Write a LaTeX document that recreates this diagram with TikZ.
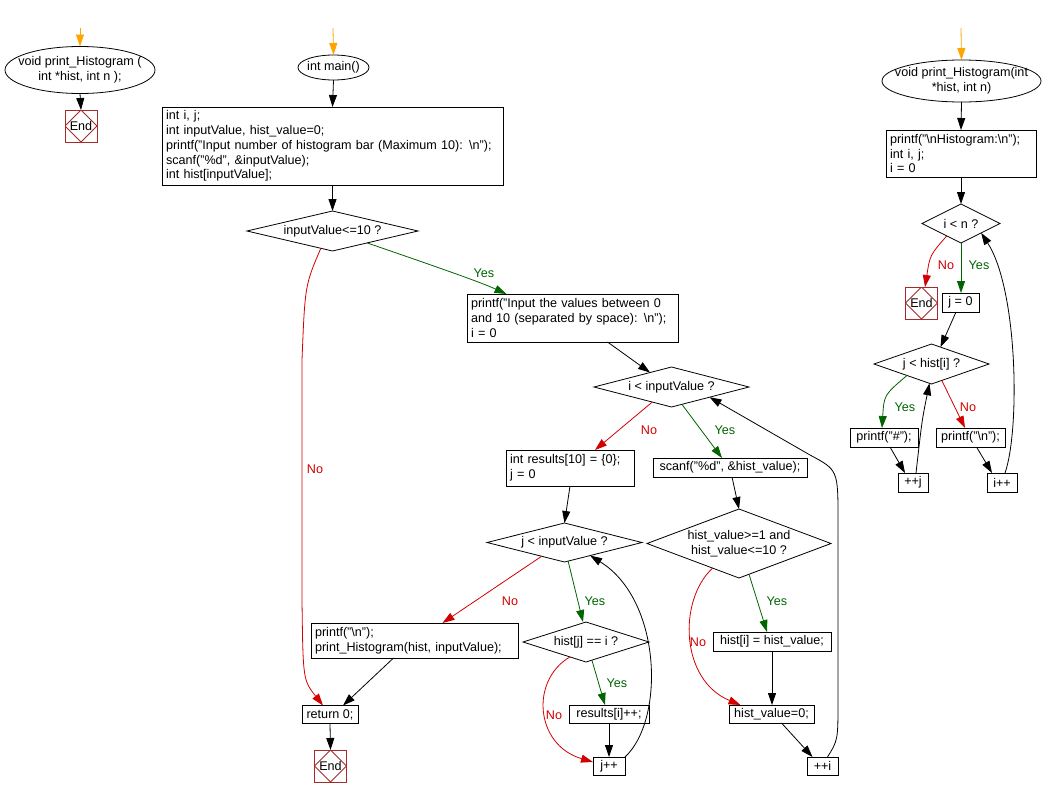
\documentclass[tikz,border=0pt]{standalone}
\usepackage{fontspec}
\setmainfont{Liberation Sans}
\usetikzlibrary{shapes.geometric,arrows.meta}
\definecolor{yesgreen}{RGB}{0,100,0}
\definecolor{nored}{RGB}{210,0,0}
\definecolor{endred}{RGB}{165,42,42}
\definecolor{startorange}{RGB}{255,165,0}
\begin{document}
\begin{tikzpicture}[x=1pt,y=-1pt,
  font=\fontsize{12.6}{14.75}\selectfont,
  line width=0.8pt,
  proc/.style={draw, rectangle, inner xsep=4pt, inner ysep=2pt, align=left, outer sep=0pt},
  cproc/.style={draw, rectangle, inner xsep=2pt, inner ysep=0pt, align=center, outer sep=0pt},
  dec/.style={draw, diamond, inner sep=0pt, outer sep=0pt},
  term/.style={draw, ellipse, inner sep=0pt, outer sep=0pt},
  endbox/.style={draw=endred, rectangle, minimum size=32pt, inner sep=0pt, outer sep=0pt,
    path picture={\draw[endred] (path picture bounding box.north) -- (path picture bounding box.east) -- (path picture bounding box.south) -- (path picture bounding box.west) -- cycle;}},
  arr/.style={-{Triangle[length=12pt,width=8pt]}},
  yesline/.style={arr, yesgreen},
  noline/.style={arr, nored},
  startline/.style={arr, startorange},
  yeslab/.style={text=yesgreen},
  nolab/.style={text=nored}]
\useasboundingbox (0,0) rectangle (1043,798);

% ---------- left function ----------
\coordinate (ls) at (80,28);
\node[term, minimum width=150pt, minimum height=47pt, label={[align=center]center:{void print\_Histogram (\\int *hist, int n );}}] (lf) at (80,70) {};
\node[endbox] (le) at (81,126) {End};
\draw[startline] (ls) -- (lf.north);
\draw[arr] (lf.south) -- (le.north);

% ---------- main ----------
\coordinate (ms) at (333,28);
\node[term, minimum width=71pt, minimum height=25pt, label=center:{int main()}] (mm) at (333.5,67.5) {};
\node[proc, text width=333pt, minimum height=78pt] (init) at (332.5,146) {int i, j;\\int inputValue, hist\_value=0;\\printf("Input number of histogram bar (Maximum 10): \textbackslash n");\\scanf("\%d", \&inputValue);\\int hist[inputValue];};
\node[dec, minimum width=171pt, minimum height=40pt, label=center:{inputValue<=10 ?}] (d1) at (332.5,231) {};
\node[proc, text width=203pt, minimum height=48pt] (inb) at (572.5,318) {printf("Input the values between 0\\and 10 (separated by space): \textbackslash n");\\i = 0};
\node[dec, minimum width=155pt, minimum height=40pt, label=center:{i < inputValue ?}] (d2) at (671.5,387) {};
\node[proc, text width=120pt, minimum height=36pt] (res) at (570,468) {int results[10] = \{0\};\\j = 0};
\node[cproc, minimum width=154pt, minimum height=19pt] (scan) at (730,467.5) {scanf("\%d", \&hist\_value);};
\node[dec, minimum width=155pt, minimum height=39pt, label=center:{j < inputValue ?}] (d3) at (564.5,542.5) {};
\node[proc, text width=199pt, minimum height=35pt] (ph) at (414.5,640.5) {printf("\textbackslash n");\\print\_Histogram(hist, inputValue);};
\node[dec, minimum width=126pt, minimum height=40pt, label=center:{hist[j] == i ?}] (d4) at (586,642) {};
\node[cproc, minimum width=80pt, minimum height=18pt] (rinc) at (609,714) {results[i]++;};
\node[cproc, minimum width=32pt, minimum height=18pt] (jinc) at (609,766) {j++};
\node[cproc, minimum width=56pt, minimum height=18pt] (ret) at (330,714.5) {return 0;};
\node[endbox] (me) at (330.5,766) {End};
\node[dec, minimum width=184pt, minimum height=69pt, label={[align=center]center:{hist\_value>=1 and\\hist\_value<=10 ?}}] (d5) at (739,543.5) {};
\node[cproc, minimum width=118pt, minimum height=19pt] (hs) at (772,641.5) {hist[i] = hist\_value;};
\node[cproc, minimum width=85pt, minimum height=18pt] (hv) at (771.5,714) {hist\_value=0;};
\node[cproc, minimum width=31pt, minimum height=18pt] (iinc) at (822.5,766) {++i};

\draw[startline] (ms) -- (mm.north);
\draw[arr] (mm.south) -- (init.north);
\draw[arr] (init.south) -- (d1.north);
\draw[yesline] (d1.-19) .. controls (440,268) and (480,282) .. ([xshift=-66pt]inb.north);
\draw[noline] (d1.-124) .. controls (305,285) .. (302,360) -- (302,600) .. controls (303,680) .. ([xshift=-7pt]ret.north);
\draw[arr] ([xshift=35pt]inb.south) -- (d2.146);
\draw[noline] (d2.-142) -- ([xshift=25pt]res.north);
\draw[yesline] (d2.-59) -- ([xshift=-8pt]scan.north);
\draw[arr] (res.south) -- (d3.north);
\draw[arr] ([xshift=2pt]scan.south) -- (d5.north);
\draw[noline] (d3.-149) -- ([xshift=28pt]ph.north);
\draw[yesline] (d3.-79) -- ([xshift=-3pt]d4.north);
\draw[arr] ([xshift=-21pt]ph.south) -- ([xshift=13pt]ret.north);
\draw[yesline] (d4.-72) -- ([xshift=-4pt]rinc.north);
\draw[noline] (d4.-137) .. controls (530,680) and (535,745) .. ([yshift=4pt]jinc.west);
\draw[arr] (rinc.south) -- (jinc.north);
\draw[arr] (jinc.north east) .. controls (665,720) and (662,600) .. (d3.-27);
\draw[arr] (ret.south) -- (me.north);
\draw[yesline] (d5.-72) -- ([xshift=-5pt]hs.north);
\draw[noline] (d5.-137) .. controls (678,600) and (680,680) .. ([xshift=-31pt]hv.north);
\draw[arr] (hs.south) -- (hs.south |- hv.north);
\draw[arr] ([xshift=10pt]hv.south) -- ([xshift=-10pt]iinc.north);
\draw[arr] ([xshift=5pt]iinc.north) .. controls (838,740) .. (838,700) -- (838,520) .. controls (838,470) .. (810,455) -- (d2.-15);

\node[yeslab] (y1) at (484,273) {Yes};
\node[nolab] (n1) at (315,469) {No};
\node[nolab] (n2) at (649,430) {No};
\node[yeslab] (y2) at (725,430) {Yes};
\node[nolab] (n3) at (510,601) {No};
\node[yeslab] (y3) at (595,601) {Yes};
\node[yeslab] (y4) at (617,683) {Yes};
\node[nolab] (n4) at (554,715) {No};
\node[yeslab] (y5) at (777,601) {Yes};
\node[nolab] (n5) at (698,642) {No};

% ---------- right function ----------
\coordinate (rs) at (961,28);
\node[term, minimum width=159pt, minimum height=42pt, label={[align=center]center:{void print\_Histogram(int\\{}*hist, int n)}}] (rf) at (961.5,81) {};
\node[proc, text width=142pt, minimum height=47pt] (ri) at (961,153.5) {printf("\textbackslash nHistogram:\textbackslash n");\\int i, j;\\i = 0};
\node[dec, minimum width=78pt, minimum height=39pt, label=center:{i < n ?}] (r1) at (961,223.5) {};
\node[endbox] (re) at (921.5,303) {End};
\node[cproc, minimum width=37pt, minimum height=19pt] (j0) at (960.5,302.5) {j = 0};
\node[dec, minimum width=115pt, minimum height=40pt, label=center:{j < hist[i] ?}] (r2) at (931.5,364) {};
\node[cproc, minimum width=68pt, minimum height=19pt] (phs) at (884,437.5) {printf("\#");};
\node[cproc, minimum width=69pt, minimum height=19pt] (pnl) at (970.5,437.5) {printf("\textbackslash n");};
\node[cproc, minimum width=30pt, minimum height=19pt] (jpp) at (913,482.5) {++j};
\node[cproc, minimum width=30pt, minimum height=19pt] (ipp) at (1002,482.5) {i++};

\draw[startline] (rs) -- (rf.north);
\draw[arr] (rf.south) -- (ri.north);
\draw[arr] (ri.south) -- (r1.north);
\draw[noline] (r1.-139) .. controls (930,255) .. ([xshift=3.5pt]re.north);
\draw[yesline] (r1.south) -- (r1.south |- j0.north);
\draw[arr] ([xshift=-4.5pt]j0.south) -- (r2.62);
\draw[yesline] (r2.-155) .. controls (884,395) .. ([xshift=-2pt]phs.north);
\draw[noline] (r2.-58) -- ([xshift=-5.5pt]pnl.north);
\draw[arr] ([xshift=6pt]phs.south) -- ([xshift=-8pt]jpp.north);
\draw[arr] ([xshift=3pt]jpp.north) .. controls (922,420) .. (r2.-96);
\draw[arr] ([xshift=6pt]pnl.south) -- ([xshift=-10pt]ipp.north);
\draw[arr] ([xshift=3pt]ipp.north) .. controls (1020,430) and (1018,290) .. (r1.-25);

\node[nolab] (n6) at (946,265) {No};
\node[yeslab] (y6) at (979,265) {Yes};
\node[yeslab] (y7) at (905,407) {Yes};
\node[nolab] (n7) at (968,407) {No};
\end{tikzpicture}
\end{document}
